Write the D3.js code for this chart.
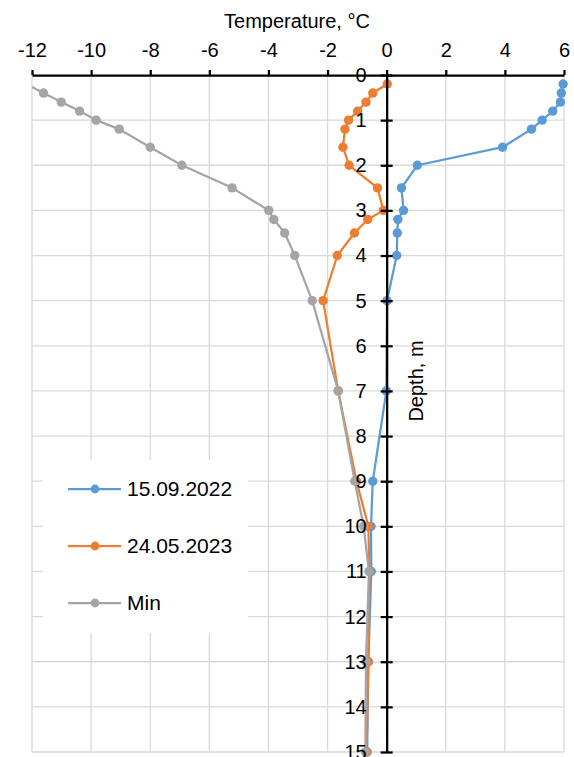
<!DOCTYPE html>
<html>
<head>
<meta charset="utf-8">
<script src="https://cdn.jsdelivr.net/npm/d3@7"></script>
<style>
  html, body { margin: 0; padding: 0; background: #fff; }
  svg { display: block; font-family: "Liberation Sans", Arial, sans-serif; }
</style>
</head>
<body>
<svg id="chart" width="574" height="757"></svg>
<script>
// Borehole temperature profiles: depth (m) vs temperature (°C)
const depths   = [0.2, 0.4, 0.6, 0.8, 1.0, 1.2, 1.6, 2.0, 2.5, 3.0, 3.2, 3.5, 4, 5, 7, 9, 10, 11, 13, 15];
const sep2022  = [5.97, 5.91, 5.88, 5.62, 5.26, 4.90, 3.92, 1.04, 0.50, 0.57, 0.38, 0.36, 0.34, 0.01, -0.01, -0.47, -0.53, -0.52, -0.62, -0.66];
const may2023  = [0.02, -0.47, -0.70, -0.98, -1.29, -1.41, -1.48, -1.27, -0.31, -0.11, -0.64, -1.09, -1.67, -2.15, -1.64, -1.02, -0.62, -0.58, -0.62, -0.68];
const minTemp  = [-12.2, -11.61, -11.01, -10.39, -9.83, -9.05, -8.00, -6.93, -5.23, -3.99, -3.82, -3.45, -3.11, -2.52, -1.64, -1.08, -0.78, -0.60, -0.70, -0.72];

const seriesNames  = ["15.09.2022", "24.05.2023", "Min"];
const seriesValues = [sep2022, may2023, minTemp];
const seriesColors = ["#5B9BD5", "#ED7D31", "#A5A5A5"];

const xTicks = [-12, -10, -8, -6, -4, -2, 0, 2, 4, 6];
const yTicks = d3.range(0, 16);

const W = 574, H = 757;
const margin = { top: 75, right: 10, bottom: 5, left: 32 };
const markerR = 4.7;

const svg = d3.select("#chart");
const x = d3.scaleLinear().domain([-12, 6]).range([margin.left, W - margin.right]);
const y = d3.scaleLinear().domain([0, 15]).range([margin.top, H - margin.bottom]);

// Gridlines
const grid = svg.append("g").attr("stroke", "#d9d9d9").attr("stroke-width", 1.3);
grid.selectAll("line.v").data(xTicks).join("line")
  .attr("x1", d => x(d)).attr("x2", d => x(d))
  .attr("y1", y(0)).attr("y2", y(15));
grid.selectAll("line.h").data(yTicks.filter(d => d > 0)).join("line")
  .attr("x1", x(-12)).attr("x2", x(6))
  .attr("y1", d => y(d)).attr("y2", d => y(d));

// Clip for series lines
svg.append("clipPath").attr("id", "plotClip")
  .append("rect")
  .attr("x", x(-12)).attr("y", y(0) - 10)
  .attr("width", x(6) - x(-12) + 10).attr("height", y(15) - y(0) + 20);

// Series
const line = d3.line().x(d => x(d[0])).y(d => y(d[1]));
seriesValues.forEach((vals, i) => {
  const pts = vals.map((v, k) => [v, depths[k]]);
  const g = svg.append("g");
  g.append("path")
    .attr("d", line(pts))
    .attr("fill", "none")
    .attr("stroke", seriesColors[i])
    .attr("stroke-width", 2.25)
    .attr("stroke-linejoin", "round")
    .attr("clip-path", "url(#plotClip)");
  g.selectAll("circle").data(pts.filter(p => p[0] >= -12 && p[0] <= 6)).join("circle")
    .attr("cx", d => x(d[0])).attr("cy", d => y(d[1]))
    .attr("r", markerR)
    .attr("fill", seriesColors[i]);
});

// Plain hyphen-minus for negative tick labels
const fmt = d => String(d);

// Top temperature axis
const xAxis = svg.append("g")
  .attr("transform", `translate(0,${y(0)})`)
  .call(d3.axisTop(x).tickValues(xTicks).tickFormat(fmt).tickSizeInner(5).tickSizeOuter(0).tickPadding(13));
xAxis.select(".domain").attr("stroke", "#000").attr("stroke-width", 2.25);
xAxis.selectAll(".tick line").attr("stroke", "#000").attr("stroke-width", 2.25);
xAxis.selectAll(".tick text")
  .attr("fill", "#000").attr("font-size", 20)
  .attr("font-family", "Liberation Sans, Arial, sans-serif");

// Depth axis at 0 °C
const yAxis = svg.append("g")
  .attr("transform", `translate(${x(0)},0)`)
  .call(d3.axisLeft(y).tickValues(yTicks).tickFormat(fmt).tickSizeInner(6).tickSizeOuter(0).tickPadding(14));
yAxis.select(".domain").attr("stroke", "#000").attr("stroke-width", 2.25);
yAxis.selectAll(".tick line").attr("x1", 6).attr("x2", -6)
  .attr("stroke", "#000").attr("stroke-width", 2.25);
yAxis.selectAll(".tick text")
  .attr("fill", "#000").attr("font-size", 20)
  .attr("font-family", "Liberation Sans, Arial, sans-serif");

// Axis titles
svg.append("text")
  .attr("x", 297).attr("y", 28)
  .attr("text-anchor", "middle")
  .attr("font-size", 20)
  .text("Temperature, °C");
svg.append("text")
  .attr("transform", `translate(423,381) rotate(-90)`)
  .attr("text-anchor", "middle")
  .attr("font-size", 20)
  .text("Depth, m");

// Legend
const legend = svg.append("g");
legend.append("rect")
  .attr("x", 43).attr("y", 460).attr("width", 205).attr("height", 173)
  .attr("fill", "#fff");
const legendY = [489, 546, 603];
seriesNames.forEach((name, i) => {
  const g = legend.append("g").attr("transform", `translate(0,${legendY[i]})`);
  g.append("line").attr("x1", 68).attr("x2", 121).attr("y1", 0).attr("y2", 0)
    .attr("stroke", seriesColors[i]).attr("stroke-width", 2.25);
  g.append("circle").attr("cx", 95).attr("cy", 0).attr("r", markerR - 0.3).attr("fill", seriesColors[i]);
  g.append("text").attr("x", 127).attr("y", 0).attr("dy", "0.35em")
    .attr("font-size", 21).attr("fill", "#000").text(name);
});
</script>
</body>
</html>
